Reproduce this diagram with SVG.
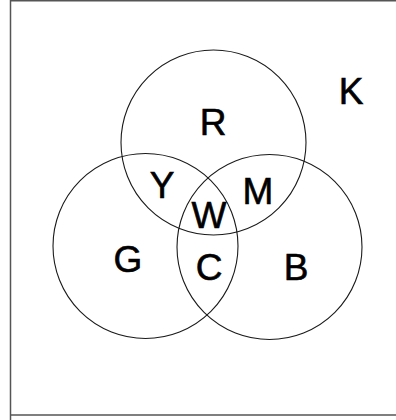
<svg xmlns="http://www.w3.org/2000/svg" width="396" height="420" viewBox="0 0 396 420">
<style>
.c{fill:none;stroke:#1a1a1a;stroke-width:1.1}
.t{font-family:"Liberation Sans",Arial,Helvetica,sans-serif;font-size:37px;fill:#000;stroke:#000;stroke-width:0.6;text-anchor:middle}
</style>
<rect x="0" y="0" width="396" height="420" fill="#fff"/>
<g id="frame"><path d="M10.5 420 V0.8 H396 M10.5 415 H396" fill="none" stroke="#555" stroke-width="1.5"/></g>
<g id="circle-R"><circle class="c" cx="213.5" cy="142.5" r="92.5"/></g>
<g id="circle-G"><circle class="c" cx="145.5" cy="246" r="92.5"/></g>
<g id="circle-B"><circle class="c" cx="269.5" cy="247" r="92.5"/></g>
<g id="labels">
<text class="t" x="213" y="135">R</text>
<text class="t" x="351" y="104">K</text>
<text class="t" x="162" y="198">Y</text>
<text class="t" x="258" y="204">M</text>
<text class="t" x="209" y="228">W</text>
<text class="t" x="128" y="272">G</text>
<text class="t" x="209" y="280">C</text>
<text class="t" x="296" y="280">B</text>
</g>
</svg>
